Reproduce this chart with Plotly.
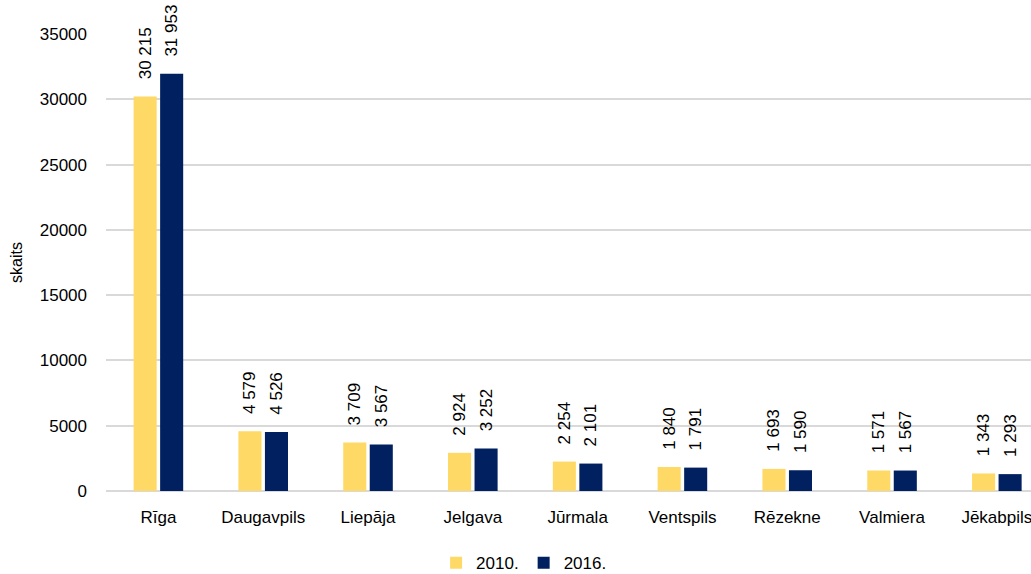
import plotly.graph_objects as go

# Iedzīvotāju skaits pa pilsētām
cities = ["Rīga", "Daugavpils", "Liepāja", "Jelgava", "Jūrmala",
          "Ventspils", "Rēzekne", "Valmiera", "Jēkabpils"]
values_2010 = [30215, 4579, 3709, 2924, 2254, 1840, 1693, 1571, 1343]
values_2016 = [31953, 4526, 3567, 3252, 2101, 1791, 1590, 1567, 1293]
y_ticks = [0, 5000, 10000, 15000, 20000, 25000, 30000, 35000]

FONT = "Liberation Sans, Arial, sans-serif"
PAD = "\u00a0" * 3  # gap between the bar top and its rotated value label

fig = go.Figure()
for name, vals, color in [("2010.", values_2010, "#FFD966"),
                          ("2016.", values_2016, "#002060")]:
    fig.add_trace(go.Bar(
        x=cities, y=vals, name=name,
        marker=dict(color=color, line=dict(width=0)),
        texttemplate=PAD + "%{y:,.0f}",
        textposition="outside",
        textangle=-90,
        constraintext="none",
        cliponaxis=False,
        textfont=dict(family=FONT, size=17, color="#000000"),
    ))

fig.update_layout(
    width=1031, height=574,
    margin=dict(l=106, r=0, t=34, b=83, autoexpand=False),
    paper_bgcolor="white", plot_bgcolor="white",
    separators=". ",
    barmode="group", bargap=0.494, bargroupgap=0.13,
    font=dict(family=FONT, size=17, color="#000000"),
    showlegend=True,
    legend=dict(orientation="h", x=0.452, xanchor="center",
                y=-0.158, yanchor="middle",
                font=dict(family=FONT, size=17, color="#000000"),
                itemwidth=30, traceorder="normal"),
    xaxis=dict(range=[-0.5, 8.326], showgrid=False, showline=False,
               zeroline=False, ticks="", ticklabelstandoff=14,
               automargin=False,
               tickfont=dict(family=FONT, size=17, color="#000000")),
    yaxis=dict(range=[0, 35000], tickvals=y_ticks, tickformat="d",
               showgrid=True, gridcolor="#D9D9D9", gridwidth=1.5,
               zeroline=True, zerolinecolor="#D9D9D9", zerolinewidth=1.5,
               showline=False, ticks="", ticklabelstandoff=18,
               automargin=False,
               tickfont=dict(family=FONT, size=17, color="#000000"),
               title=dict(text="skaits", standoff=13,
                          font=dict(family=FONT, size=16, color="#000000"))),
)

fig.write_html("out.html")
